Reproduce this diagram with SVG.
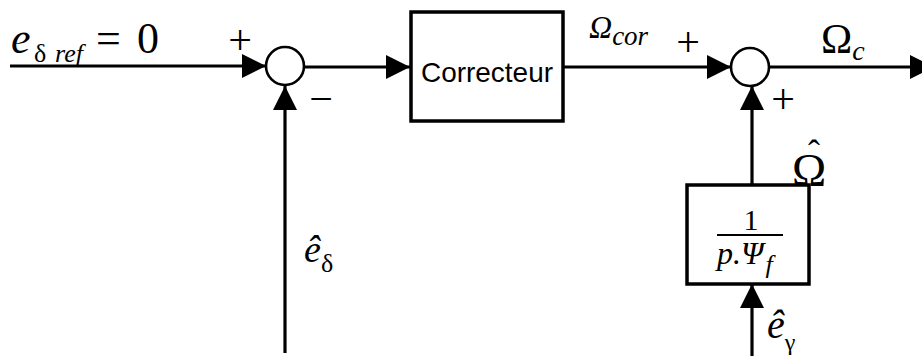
<svg xmlns="http://www.w3.org/2000/svg" width="922" height="356" viewBox="0 0 922 356">
<defs>
<marker id="arr" markerUnits="userSpaceOnUse" markerWidth="24" markerHeight="24" refX="24" refY="12" orient="auto">
<path d="M0,0 L24,12 L0,24 z" fill="#000"/>
</marker>
<style>
.ln{stroke:#000;stroke-width:3.2;fill:none}
.box{stroke:#000;stroke-width:3.5;fill:#fff}
.sum{stroke:#000;stroke-width:2.6;fill:#fff}
.m{font-family:"Liberation Serif","Times New Roman",serif;fill:#000}
.i{font-style:italic}
.u{font-style:normal}
.s{font-family:"Liberation Sans",Arial,sans-serif;fill:#000}
</style>
</defs>
<rect width="922" height="356" fill="#fff"/>
<g id="connectors">
<path class="ln" d="M10,66 H266" marker-end="url(#arr)"/>
<path class="ln" d="M285,353 V86" marker-end="url(#arr)"/>
<path class="ln" d="M304,67 H410" marker-end="url(#arr)"/>
<path class="ln" d="M563,67 H731" marker-end="url(#arr)"/>
<path class="ln" d="M769,67 H934" marker-end="url(#arr)"/>
<path class="ln" d="M752,185 V86" marker-end="url(#arr)"/>
<path class="ln" d="M752,356 V284" marker-end="url(#arr)"/>
</g>
<g id="sum1">
<circle class="sum" cx="285" cy="66" r="19"/>
<text class="m" x="240" y="54" font-size="42" text-anchor="middle">+</text>
<text class="m" x="321" y="113" font-size="42" text-anchor="middle">−</text>
</g>
<g id="correcteur">
<rect class="box" x="411" y="12" width="152" height="109"/>
<text class="s" x="487" y="82" font-size="28" text-anchor="middle" textLength="132" lengthAdjust="spacingAndGlyphs">Correcteur</text>
</g>
<g id="sum2">
<circle class="sum" cx="750" cy="67" r="19"/>
<text class="m" x="688" y="56" font-size="42" text-anchor="middle">+</text>
<text class="m" x="783" y="113" font-size="42" text-anchor="middle">+</text>
</g>
<g id="gain">
<rect class="box" x="687" y="185" width="122" height="99"/>
<text class="m" x="751" y="230" font-size="30" text-anchor="middle">1</text>
<line x1="717" y1="235" x2="783" y2="235" stroke="#000" stroke-width="2"/>
<text class="m i" x="717" y="264" font-size="32">p.Ψ<tspan font-size="26" dx="2" dy="9">f</tspan></text>
</g>
<g id="labels">
<text class="m i" x="11" y="53" font-size="44">e<tspan class="u" font-size="26" x="34" dy="9">δ</tspan><tspan font-size="26" x="55">ref</tspan><tspan class="u" font-size="44" x="96" dy="-9">=</tspan><tspan class="u" font-size="44" x="137">0</tspan></text>
<text class="m i" x="589" y="38" font-size="32">Ω<tspan font-size="27" dy="7">cor</tspan></text>
<text class="m" x="821" y="53" font-size="42">Ω<tspan class="i" font-size="28" dy="7">c</tspan></text>
<text class="m" x="792" y="186" font-size="46">Ω<tspan font-size="36" x="808" dy="-21">ˆ</tspan></text>
<text class="m i" x="304" y="262" font-size="38">ê<tspan class="u" font-size="26" dy="10">δ</tspan></text>
<text class="m i" x="767" y="338" font-size="40">ê<tspan class="u" font-size="24" dy="12">γ</tspan></text>
</g>
</svg>
